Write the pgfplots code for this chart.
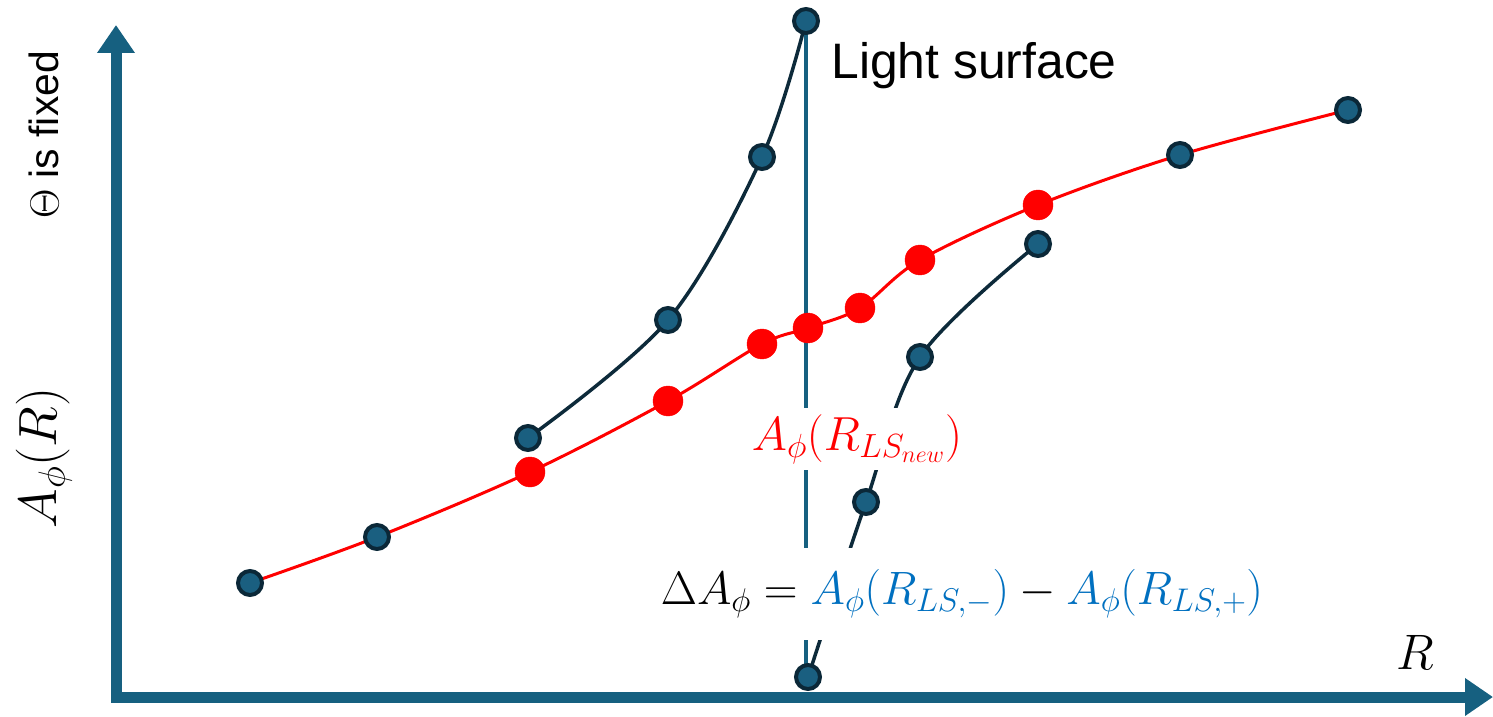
\RequirePackage{fix-cm}
\documentclass[border=0pt]{standalone}
\usepackage{pgfplots}
\pgfplotsset{compat=1.18}
\usepackage{fontspec}
\setmainfont{Liberation Sans}
\usetikzlibrary{arrows.meta}
\definecolor{axblue}{HTML}{166080}
\definecolor{mfill}{HTML}{1A5F80}
\definecolor{mdraw}{HTML}{0B2838}
\definecolor{dcurve}{HTML}{0D2A3A}
\definecolor{fblue}{HTML}{0070C0}
\begin{document}
\begin{tikzpicture}
\begin{axis}[
  width=1493bp, height=717bp, scale only axis,
  xmin=0, xmax=1493, ymin=0, ymax=717, y dir=reverse,
  hide axis, clip=false,
]
% axes arrows
\draw[axblue, line width=11bp, -{Triangle[length=28bp,width=36bp]}] (axis cs:116,702) -- (axis cs:116,25);
\draw[axblue, line width=11bp, -{Triangle[length=28bp,width=36bp]}] (axis cs:111,697) -- (axis cs:1493,697);
% light surface line
\addplot[color=axblue, line width=3.5bp] coordinates {(806,21) (806,665)};
% blue markers
\addplot[only marks, mark=*, mark size=12bp, mark options={fill=mfill, draw=mdraw, line width=4bp}] coordinates {
(528,438) (668,320) (762,157) (806,21)
(808,677) (866,502) (920,357) (1038,244)
(250,583) (377,537) (1180,155) (1348,110)};
% dark curves
\addplot[color=dcurve, line width=3.5bp, smooth, tension=0.55] coordinates {(528,438) (668,320) (762,157) (806,21)};
\addplot[color=dcurve, line width=3.5bp, smooth, tension=0.55] coordinates {(811,668) (866,502) (920,357) (1038,244)};
% red curve
\addplot[color=red, line width=3bp, smooth, tension=0.55] coordinates {
(250,583) (377,537) (530,472) (668,401) (762,344) (808,328) (860,308) (920,260) (1038,205) (1180,155) (1348,110)};
\addplot[only marks, mark=*, mark size=15bp, color=red] coordinates {
(530,472) (668,401) (762,344) (808,328) (860,308) (920,260) (1038,205)};
% labels
\node[fill=white, inner xsep=2bp, inner ysep=0bp, minimum height=62bp, text=red, font=\fontsize{48}{56}\selectfont] at (axis cs:857,439) {$A_\phi{\left(R_{LS_{new}}\right)}$};
\node[fill=white, inner xsep=3bp, inner ysep=0bp, minimum height=92bp, font=\fontsize{47}{55}\selectfont] at (axis cs:962,594) {$\Delta A_\phi = \color{fblue}A_\phi{\left(R_{LS,-}\right)} \color{black}- \color{fblue}A_\phi{\left(R_{LS,+}\right)}$};
\node[font=\fontsize{50}{58}\selectfont] at (axis cs:1415,652) {$R$};
\node[anchor=west, font=\fontsize{50}{58}\selectfont] at (axis cs:828,66) {Light surface};
\node[rotate=90, font=\fontsize{54}{62}\selectfont] at (axis cs:44,458) {$A_\phi(R)$};
\node[rotate=90, font=\fontsize{41}{50}\selectfont] at (axis cs:44,135) {$\Theta$ is fixed};
\end{axis}
\pgfresetboundingbox
\path[use as bounding box] (current axis.south west) rectangle (current axis.north east);
\end{tikzpicture}
\end{document}
